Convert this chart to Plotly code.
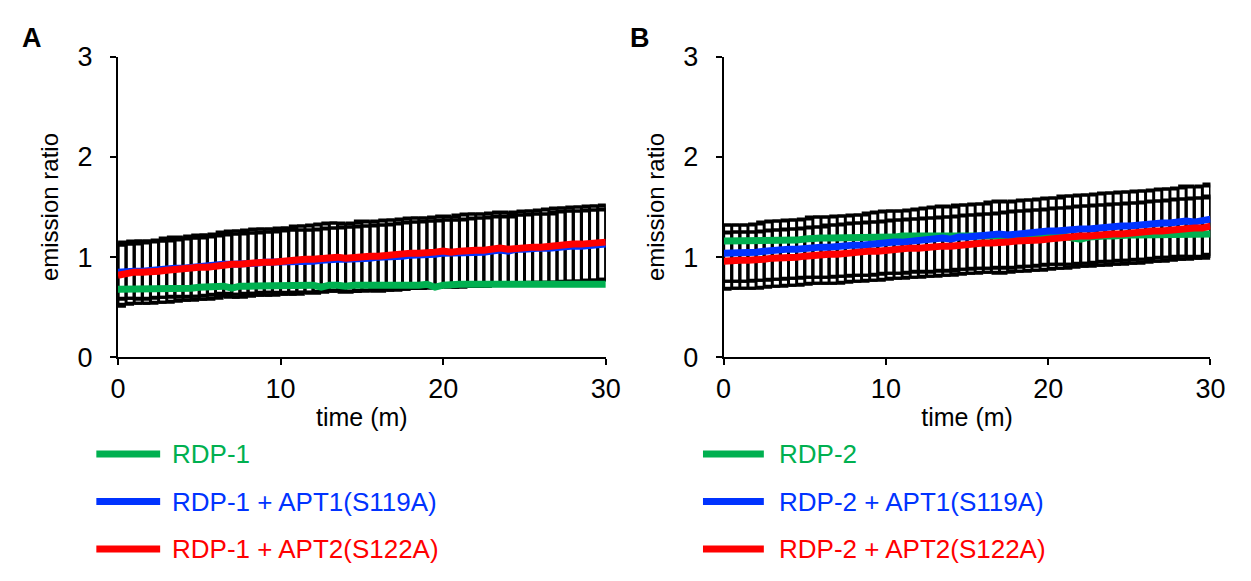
import plotly.graph_objects as go

# ---------------- data ----------------
time_min = [i * 0.5 for i in range(61)]

# Panel A
rdp1 = [0.68,0.68,0.68,0.68,0.69,0.69,0.68,0.69,0.69,0.69,
        0.70,0.70,0.70,0.71,0.69,0.71,0.71,0.71,0.71,0.72,
        0.71,0.72,0.72,0.71,0.72,0.70,0.72,0.72,0.71,0.72,
        0.72,0.71,0.72,0.72,0.72,0.72,0.72,0.72,0.73,0.70,
        0.72,0.73,0.73,0.73,0.73,0.73,0.73,0.73,0.73,0.73,
        0.73,0.73,0.73,0.73,0.73,0.73,0.73,0.73,0.73,0.73,
        0.73]
rdp1_apt1 = [0.85,0.86,0.86,0.86,0.87,0.88,0.88,0.89,0.89,0.90,
             0.90,0.91,0.92,0.93,0.93,0.93,0.94,0.94,0.95,0.95,
             0.95,0.96,0.96,0.96,0.96,0.97,0.98,0.98,0.98,0.98,
             0.99,0.99,1.00,1.00,1.01,1.01,1.02,1.02,1.03,1.03,
             1.04,1.04,1.04,1.05,1.05,1.05,1.06,1.07,1.06,1.08,
             1.08,1.09,1.09,1.09,1.10,1.11,1.11,1.11,1.12,1.12,
             1.13]
rdp1_apt1_sd = [0.27,0.27,0.27,0.28,0.28,0.28,0.28,0.28,0.29,0.29,
                0.29,0.29,0.29,0.29,0.30,0.30,0.30,0.30,0.30,0.30,
                0.31,0.31,0.31,0.31,0.31,0.31,0.31,0.31,0.32,0.32,
                0.32,0.32,0.32,0.32,0.32,0.33,0.33,0.33,0.33,0.33,
                0.33,0.33,0.33,0.33,0.34,0.34,0.34,0.34,0.34,0.34,
                0.34,0.34,0.34,0.34,0.35,0.35,0.35,0.35,0.35,0.35,
                0.35]
rdp1_apt2 = [0.82,0.84,0.85,0.85,0.85,0.86,0.87,0.88,0.88,0.89,
             0.90,0.90,0.91,0.93,0.93,0.93,0.94,0.95,0.95,0.95,
             0.96,0.96,0.97,0.98,0.98,0.99,1.00,1.00,0.99,1.00,
             1.01,1.01,1.01,1.02,1.02,1.03,1.04,1.04,1.04,1.05,
             1.06,1.05,1.06,1.07,1.07,1.07,1.08,1.09,1.08,1.09,
             1.10,1.10,1.10,1.11,1.12,1.12,1.13,1.13,1.14,1.14,
             1.15]
rdp1_apt2_sd = [0.31,0.31,0.31,0.31,0.31,0.31,0.32,0.32,0.31,0.32,
                0.32,0.32,0.32,0.32,0.33,0.33,0.33,0.33,0.33,0.33,
                0.33,0.33,0.34,0.33,0.34,0.34,0.34,0.34,0.34,0.34,
                0.35,0.34,0.35,0.35,0.35,0.35,0.35,0.35,0.35,0.35,
                0.35,0.35,0.36,0.36,0.36,0.36,0.36,0.36,0.36,0.36,
                0.36,0.36,0.37,0.37,0.37,0.37,0.37,0.37,0.37,0.37,
                0.37]

# Panel B
rdp2 = [1.16,1.16,1.16,1.16,1.16,1.16,1.17,1.17,1.17,1.17,
        1.18,1.19,1.19,1.19,1.19,1.19,1.19,1.19,1.19,1.20,
        1.20,1.20,1.21,1.21,1.21,1.21,1.21,1.21,1.21,1.21,
        1.21,1.21,1.21,1.21,1.21,1.22,1.22,1.22,1.22,1.22,
        1.22,1.22,1.21,1.19,1.18,1.20,1.21,1.21,1.21,1.22,
        1.22,1.22,1.22,1.22,1.22,1.22,1.22,1.22,1.22,1.22,
        1.23]
rdp2_apt1 = [1.04,1.04,1.04,1.04,1.05,1.06,1.07,1.07,1.08,1.08,
             1.09,1.10,1.10,1.10,1.11,1.11,1.12,1.12,1.13,1.14,
             1.15,1.15,1.15,1.16,1.17,1.17,1.18,1.19,1.18,1.20,
             1.20,1.21,1.21,1.22,1.23,1.22,1.23,1.24,1.24,1.25,
             1.26,1.26,1.27,1.27,1.28,1.28,1.29,1.30,1.30,1.31,
             1.31,1.32,1.32,1.33,1.34,1.34,1.35,1.36,1.35,1.36,
             1.38]
rdp2_apt1_sd = [0.28,0.28,0.28,0.28,0.28,0.29,0.29,0.29,0.29,0.29,
                0.29,0.30,0.30,0.30,0.30,0.30,0.30,0.30,0.31,0.31,
                0.31,0.31,0.31,0.31,0.31,0.32,0.32,0.32,0.32,0.32,
                0.32,0.32,0.32,0.33,0.33,0.33,0.33,0.33,0.33,0.33,
                0.33,0.33,0.34,0.34,0.34,0.34,0.34,0.34,0.34,0.34,
                0.34,0.34,0.34,0.34,0.34,0.34,0.34,0.35,0.35,0.35,
                0.35]
rdp2_apt2 = [0.96,0.97,0.97,0.97,0.97,0.98,0.99,0.99,1.00,1.00,
             1.01,1.02,1.02,1.03,1.03,1.04,1.05,1.05,1.06,1.06,
             1.07,1.08,1.08,1.09,1.09,1.10,1.10,1.11,1.11,1.12,
             1.13,1.13,1.14,1.14,1.14,1.15,1.16,1.16,1.17,1.17,
             1.18,1.19,1.19,1.20,1.21,1.21,1.22,1.22,1.23,1.23,
             1.24,1.24,1.25,1.26,1.26,1.27,1.28,1.28,1.29,1.29,
             1.31]
rdp2_apt2_sd = [0.28,0.28,0.28,0.28,0.28,0.28,0.28,0.28,0.28,0.28,
                0.28,0.28,0.28,0.29,0.29,0.29,0.29,0.29,0.29,0.29,
                0.29,0.29,0.29,0.29,0.29,0.29,0.29,0.29,0.29,0.29,
                0.29,0.29,0.29,0.29,0.30,0.30,0.30,0.30,0.30,0.30,
                0.30,0.30,0.30,0.30,0.30,0.30,0.30,0.30,0.30,0.30,
                0.30,0.30,0.30,0.30,0.30,0.30,0.30,0.30,0.30,0.30,
                0.30]

names_a = ["RDP-1", "RDP-1 + APT1(S119A)", "RDP-1 + APT2(S122A)"]
names_b = ["RDP-2", "RDP-2 + APT1(S119A)", "RDP-2 + APT2(S122A)"]
colors = ["#00B050", "#0033FF", "#FF0000"]
x_ticks = [0, 10, 20, 30]
y_ticks = [0, 1, 2, 3]
panel_labels = ["A", "B"]

W, H = 1251, 581
FONT = "Liberation Sans, Arial, sans-serif"

fig = go.Figure()

panels = [
    ("x", "y", names_a, [rdp1, rdp1_apt1, rdp1_apt2], [None, rdp1_apt1_sd, rdp1_apt2_sd]),
    ("x2", "y2", names_b, [rdp2, rdp2_apt1, rdp2_apt2], [None, rdp2_apt1_sd, rdp2_apt2_sd]),
]

for xa, ya, names, series, sds in panels:
    # error bars first (beneath all lines)
    for vals, sd in zip(series, sds):
        if sd is None:
            continue
        fig.add_trace(go.Scatter(
            x=time_min, y=vals, xaxis=xa, yaxis=ya, mode="markers",
            marker=dict(size=1, color="rgba(0,0,0,0)"),
            error_y=dict(type="data", array=sd, visible=True, color="black",
                         thickness=3, width=8),
            showlegend=False, hoverinfo="skip"))
    for vals, name, col in zip(series, names, colors):
        fig.add_trace(go.Scatter(
            x=time_min, y=vals, xaxis=xa, yaxis=ya, mode="lines", name=name,
            line=dict(color=col, width=7), showlegend=False))

xd = [[112 / W, 609 / W], [729 / W, 1225 / W]]
yd = [1 - 361 / H, 1 - 44 / H]

axis_common = dict(showline=True, linecolor="black", linewidth=2,
                   ticks="outside", tickcolor="black", tickwidth=2, ticklen=6,
                   showgrid=False, zeroline=False,
                   tickfont=dict(family=FONT, size=27, color="black"))

for i, (xk, yk, anchor_x, anchor_y) in enumerate([("xaxis", "yaxis", "y", "x"),
                                                  ("xaxis2", "yaxis2", "y2", "x2")]):
    fig.update_layout(**{
        xk: dict(domain=xd[i], anchor=anchor_x, range=[0, 30], tickvals=x_ticks,
                 title=dict(text="time (m)", font=dict(family=FONT, size=25, color="black"),
                            standoff=6),
                 **axis_common),
        yk: dict(domain=yd, anchor=anchor_y, range=[0, 3], tickvals=y_ticks,
                 ticklabelstandoff=12,
                 title=dict(text="emission ratio", font=dict(family=FONT, size=24, color="black"),
                            standoff=12),
                 **axis_common),
    })

# legends (drawn as line samples + coloured text below each panel)
shapes = []
annotations = []
legend_x = [(90, 155, 165), (708, 770, 783)]
legend_y = [463, 513, 563]
for (lx0, lx1, tx), names in zip(legend_x, [names_a, names_b]):
    for name, col, ly in zip(names, colors, legend_y):
        shapes.append(dict(type="line", xref="paper", yref="paper",
                           x0=lx0 / W, x1=lx1 / W, y0=1 - ly / H, y1=1 - ly / H,
                           line=dict(color=col, width=7)))
        annotations.append(dict(xref="paper", yref="paper", x=tx / W, y=1 - ly / H,
                                xanchor="left", yanchor="middle", showarrow=False,
                                text=name, font=dict(family=FONT, size=26, color=col)))

for lab, px in zip(panel_labels, [12, 632]):
    annotations.append(dict(xref="paper", yref="paper", x=px / W, y=1 - 6 / H,
                            xanchor="left", yanchor="top", showarrow=False,
                            text="<b>%s</b>" % lab,
                            font=dict(family=FONT, size=27, color="black")))

fig.update_layout(width=W, height=H, margin=dict(l=0, r=0, t=0, b=0),
                  paper_bgcolor="white", plot_bgcolor="white",
                  shapes=shapes, annotations=annotations, showlegend=False,
                  font=dict(family=FONT, color="black"))

fig.write_html("out.html",
               post_script="document.body.style.margin='0';"
                           "document.body.style.padding='0';"
                           "document.documentElement.style.overflow='hidden';")
